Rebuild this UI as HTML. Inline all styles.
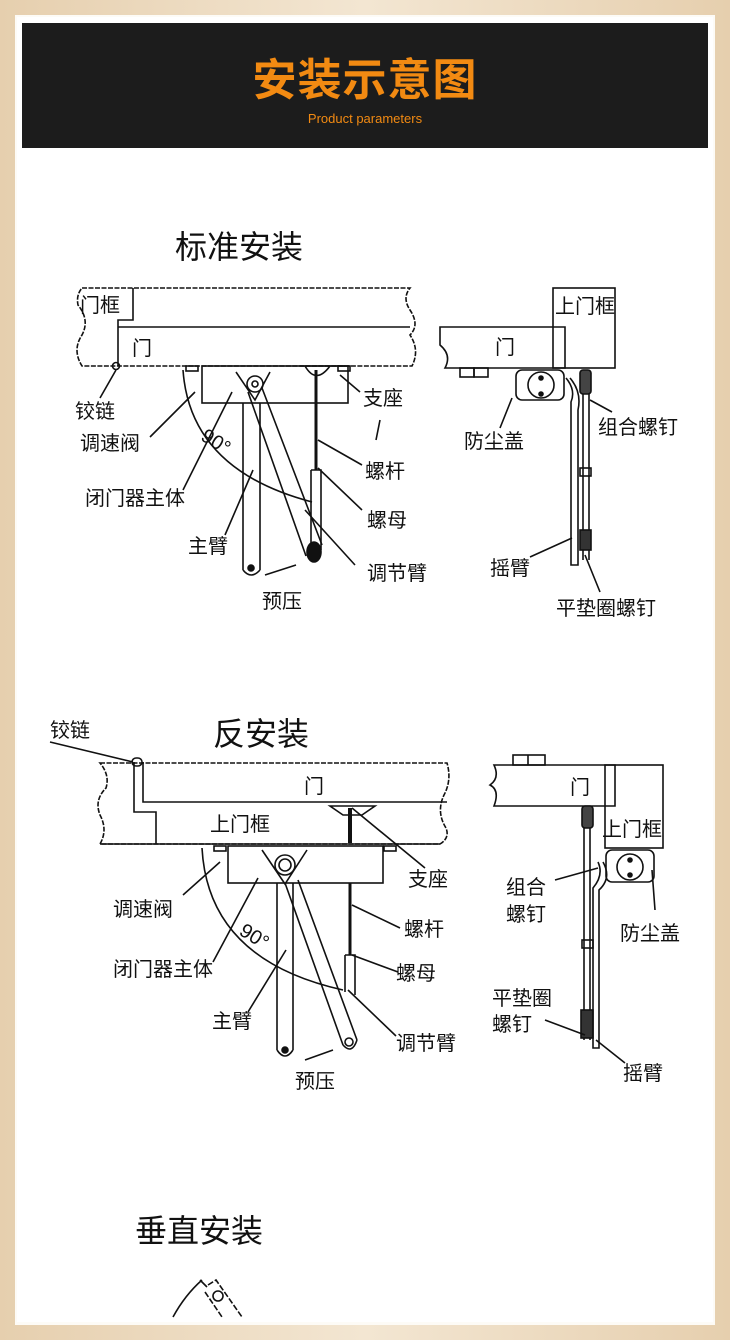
<!DOCTYPE html>
<html><head><meta charset="utf-8"><style>
html,body{margin:0;padding:0;}
body{width:730px;height:1340px;overflow:hidden;background:#ecd9bd;}
svg{display:block;}
text{font-family:"Liberation Sans","Noto Sans CJK SC",sans-serif;fill:#111;}
</style></head><body>
<svg width="730" height="1340" viewBox="0 0 730 1340" xmlns="http://www.w3.org/2000/svg">
<defs>
<linearGradient id="bd" x1="0" y1="0" x2="1" y2="0">
<stop offset="0" stop-color="#e6cfae"/><stop offset="0.5" stop-color="#f3e6d2"/><stop offset="1" stop-color="#e6cfae"/>
</linearGradient>
</defs>
<rect x="0" y="0" width="730" height="1340" fill="url(#bd)"/>
<rect x="15" y="15" width="700" height="1310" fill="#fdfbf6"/>
<rect x="17" y="17" width="696" height="1305" fill="#ffffff"/>
<!-- header -->
<rect x="22" y="23" width="686" height="125" fill="#1c1c1c"/>
<text x="365" y="95" text-anchor="middle" font-size="44" font-weight="bold" style="fill:#f28a12;letter-spacing:1px">安装示意图</text>
<text x="365" y="123" text-anchor="middle" font-size="13" style="fill:#f28a12">Product parameters</text>

<g stroke="#111" fill="none" stroke-width="1.6">
<!-- ===== 标准安装 left ===== -->
<path d="M82,288 H410 Q402,298 410,310 Q420,325 410,335 Q420,350 412,366 H82 Q72,350 82,335 Q90,320 78,305 Q76,295 82,288 Z" stroke-dasharray="5,1.5"/>
<path d="M133,288 V320 H118 V366"/>
<path d="M118,327 H410"/>
<circle cx="116" cy="366" r="3.5"/>
<rect x="202" y="366" width="146" height="37"/>
<rect x="186" y="366" width="12" height="5"/><rect x="338" y="366" width="12" height="5"/>
<path d="M236,372 L255,400 L270,372"/>
<circle cx="255" cy="384" r="8"/><circle cx="255" cy="384" r="3"/>
<path d="M243,403 V570 M260,403 V570 M243,570 Q251,580 260,570"/>
<circle cx="251" cy="568" r="3" fill="#111"/>
<path d="M248,392 L306,556 M262,388 L322,545"/>
<ellipse cx="314" cy="552" rx="7" ry="10" fill="#111"/>
<path d="M316,370 V470" stroke-width="3"/>
<path d="M311,470 H321 V550 M311,470 V545"/>
<path d="M305,366 Q316,385 330,366 M300,366 H345"/>
<path d="M183,370 Q190,470 312,502"/>
<path d="M116,370 L100,398 M195,392 L150,437 M232,392 L183,490 M253,470 L225,535 M340,375 L360,392 M380,420 L376,440 M318,440 L362,465 M318,468 L362,510 M305,510 L355,565 M265,575 L296,565"/>
<!-- ===== 标准安装 right ===== -->
<rect x="553" y="288" width="62" height="80"/>
<path d="M440,327 H565 V368 H445 Q452,355 440,345 Z"/>
<rect x="460" y="368" width="14" height="9"/><rect x="474" y="368" width="14" height="9"/>
<rect x="516" y="370" width="48" height="30" rx="6"/>
<circle cx="541" cy="385" r="13"/><circle cx="541" cy="378" r="2" fill="#111"/><circle cx="541" cy="394" r="2" fill="#111"/>
<rect x="580" y="370" width="11" height="24" rx="3" fill="#444"/>
<path d="M583,394 V560 M589,394 V560" />
<rect x="580" y="468" width="11" height="8"/>
<rect x="580" y="530" width="11" height="20" fill="#333"/>
<path d="M566,378 Q576,390 571,402 V565 H578 V410 Q582,392 570,378"/>
<path d="M512,398 L500,428 M590,400 L612,412 M572,538 L530,557 M585,555 L600,592"/>
<!-- ===== 反安装 left ===== -->
<path d="M100,763 H447 Q452,780 444,795 Q436,812 446,828 Q450,838 440,844 H100 Q108,830 100,815 Q94,800 106,788 Q110,775 100,763 Z" stroke-dasharray="5,1.5"/>
<path d="M134,762 V812 H156 V844 M143,762 V802 H447"/>
<path d="M100,844 H440"/>
<rect x="132" y="758" width="10" height="8" rx="4"/>
<rect x="228" y="846" width="155" height="37"/>
<rect x="214" y="846" width="12" height="5"/><rect x="384" y="846" width="12" height="5"/>
<path d="M262,850 L285,884 L307,850"/>
<circle cx="285" cy="865" r="10"/><circle cx="285" cy="865" r="6"/>
<path d="M277,883 V1050 M293,883 V1050 M277,1050 Q285,1062 293,1050"/>
<circle cx="285" cy="1050" r="3" fill="#111"/>
<path d="M285,883 L343,1045 M298,880 L357,1040 M343,1045 Q352,1055 357,1040"/>
<circle cx="349" cy="1042" r="4"/>
<path d="M330,806 H375 L362,815 H343 Z"/>
<path d="M350,808 V843" stroke-width="4"/>
<path d="M350,883 V955" stroke-width="3"/>
<path d="M345,955 H355 V995 M345,955 V992"/>
<path d="M202,848 Q208,960 343,990"/>
<path d="M133,762 L50,742 M220,862 L183,895 M258,878 L213,962 M286,950 L248,1012 M352,808 L425,868 M352,905 L400,928 M352,955 L398,972 M348,990 L396,1036 M305,1060 L333,1050"/>
<!-- ===== 反安装 right ===== -->
<rect x="513" y="755" width="32" height="10"/><path d="M528,755 V765"/>
<path d="M494,765 H615 V806 H494 Q500,790 490,785 Q500,778 494,765 Z"/>
<rect x="605" y="765" width="58" height="83"/>
<rect x="582" y="806" width="11" height="22" rx="3" fill="#444"/>
<path d="M584,828 V1040 M590,828 V1040"/>
<rect x="582" y="940" width="11" height="8"/>
<rect x="581" y="1010" width="12" height="28" fill="#333"/>
<rect x="606" y="850" width="48" height="32" rx="6"/>
<circle cx="630" cy="867" r="13"/><circle cx="630" cy="860" r="2" fill="#111"/><circle cx="630" cy="875" r="2" fill="#111"/>
<path d="M603,862 Q612,878 599,890 V1048 H593 V888 Q604,875 598,862"/>
<path d="M598,868 L555,880 M652,870 L655,910 M545,1020 L585,1035 M596,1040 L625,1063"/>
<!-- ===== 垂直安装 partial ===== -->
<path d="M173,1317 Q185,1295 202,1280 M200,1280 L207,1287"/>
<path d="M208,1285 L216,1280 L242,1317 M205,1292 L222,1317" stroke-dasharray="6,2"/>
<circle cx="218" cy="1296" r="5"/>
</g>

<g font-size="20">
<text x="175" y="258" font-size="32">标准安装</text>
<text x="80" y="312">门框</text>
<text x="132" y="355">门</text>
<text x="75" y="418">铰链</text>
<text x="80" y="450">调速阀</text>
<text x="85" y="505">闭门器主体</text>
<text x="188" y="553">主臂</text>
<text x="262" y="608">预压</text>
<text x="363" y="405">支座</text>
<text x="365" y="478">螺杆</text>
<text x="367" y="527">螺母</text>
<text x="367" y="580">调节臂</text>
<text x="555" y="313">上门框</text>
<text x="495" y="354">门</text>
<text x="464" y="448">防尘盖</text>
<text x="598" y="434">组合螺钉</text>
<text x="490" y="575">摇臂</text>
<text x="556" y="615">平垫圈螺钉</text>

<text x="213" y="745" font-size="32">反安装</text>
<text x="50" y="737">铰链</text>
<text x="304" y="793">门</text>
<text x="210" y="831">上门框</text>
<text x="408" y="886">支座</text>
<text x="113" y="916">调速阀</text>
<text x="404" y="936">螺杆</text>
<text x="396" y="980">螺母</text>
<text x="113" y="976">闭门器主体</text>
<text x="212" y="1028">主臂</text>
<text x="396" y="1050">调节臂</text>
<text x="295" y="1088">预压</text>
<text x="238" y="942" transform="rotate(32 252 938)" font-size="20">90°</text>
<text x="200" y="452" transform="rotate(32 222 445)" font-size="20">90°</text>
<text x="570" y="794">门</text>
<text x="602" y="836">上门框</text>
<text x="506" y="894">组合</text>
<text x="506" y="921">螺钉</text>
<text x="620" y="940">防尘盖</text>
<text x="492" y="1005">平垫圈</text>
<text x="492" y="1031">螺钉</text>
<text x="623" y="1080">摇臂</text>

<text x="135" y="1242" font-size="32">垂直安装</text>
</g>
</svg>
</body></html>
